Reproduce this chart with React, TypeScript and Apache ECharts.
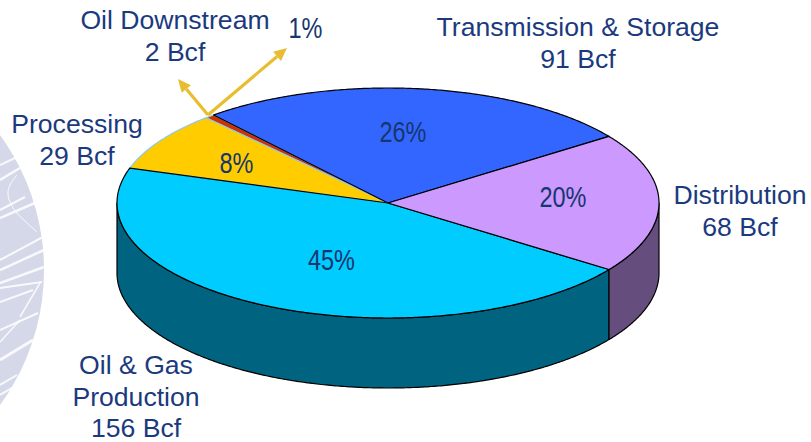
import React, { useEffect, useRef } from "react";
import * as echarts from "echarts";

const names = ["Transmission & Storage", "Oil Downstream", "Processing", "Oil & Gas Production", "Distribution"];
const bcf = [91, 2, 29, 156, 68];
const topColors = ["#3366FF", "#CC3300", "#FFCC00", "#00CCFF", "#CC99FF"];
const sideColors = ["#1F3D99", "#7A1F00", "#997A00", "#006480", "#654D7D"];
const edgeColors = ["#000000", "#8CC8F0", "#8CC8F0", "#000000", "#000000"];
const nameLabels = [
  "Transmission & Storage\n91 Bcf",
  "Oil Downstream\n2 Bcf",
  "Processing\n29 Bcf",
  "Oil & Gas\nProduction",
  "156 Bcf",
  "Distribution\n68 Bcf",
];
const pctLabels = ["26%", "1%", "8%", "45%", "20%"];

const CX = 388;
const CY = 203;
const RX = 271;
const RY = 115;
const DEPTH = 70;
const START = 35.4;
const total = bcf.reduce((a, b) => a + b, 0);

const pt = (deg: number, dy = 0): number[] => {
  const r = (deg * Math.PI) / 180;
  return [CX + RX * Math.cos(r), CY - RY * Math.sin(r) + dy];
};
const arc = (a: number, b: number, dy = 0): number[][] => {
  const out: number[][] = [];
  const n = Math.max(2, Math.ceil(Math.abs(b - a) * 2));
  for (let i = 0; i <= n; i++) out.push(pt(a + ((b - a) * i) / n, dy));
  return out;
};
const sliceStart = (idx: number) => {
  let s = 0;
  for (let i = 0; i < idx; i++) s += bcf[i];
  return START + (s / total) * 360;
};

const renderTop = (params: any, api: any) => {
  const i = params.dataIndex;
  const a0 = sliceStart(i);
  const a1 = a0 + (api.value(0) / total) * 360;
  const pts = [[CX, CY], ...arc(a0, a1), [CX, CY]];
  return {
    type: "polygon",
    z2: edgeColors[i] === "#000000" ? 10 : 5,
    shape: { points: pts },
    style: { fill: topColors[i], stroke: edgeColors[i], lineWidth: 1.2, lineJoin: "round" },
  };
};

const renderSide = (params: any, api: any) => {
  const i = params.dataIndex;
  const a0 = sliceStart(i);
  const a1 = a0 + (api.value(0) / total) * 360;
  // the visible wall is the part of the slice on the near half of the ellipse
  const lo = Math.max(a0, 180);
  const hi = Math.min(a1, 360);
  if (hi <= lo) return null;
  const pts = [...arc(lo, hi), ...arc(hi, lo, DEPTH)];
  return {
    type: "polygon",
    shape: { points: pts },
    style: { fill: sideColors[i], stroke: "#000000", lineWidth: 1.2, lineJoin: "round" },
  };
};

const nameStyle = (x: number, y: number, text: string, lineHeight = 32) => ({
  type: "text",
  x,
  y,
  z: 20,
  style: {
    text,
    fill: "#1B3A7E",
    font: '26.6px "Liberation Sans", Arial, sans-serif',
    lineHeight,
    align: "center",
    verticalAlign: "middle",
  },
});
const pctStyle = (x: number, y: number, text: string) => ({
  type: "text",
  x,
  y,
  scaleX: 0.81,
  z: 20,
  style: {
    text,
    fill: "#16366F",
    font: '29px "Liberation Sans", sans-serif',
    align: "center",
    verticalAlign: "middle",
  },
});
const arrowColor = "#E8BE30";
const arrow = (x1: number, y1: number, x2: number, y2: number) => {
  const t = Math.atan2(y2 - y1, x2 - x1);
  const l = 13;
  const w = 6;
  const bx = x2 - l * Math.cos(t);
  const by = y2 - l * Math.sin(t);
  return [
    { type: "line", z: 15, shape: { x1, y1, x2: bx, y2: by }, style: { stroke: arrowColor, lineWidth: 3.2 } },
    {
      type: "polygon",
      z: 15,
      shape: {
        points: [
          [x2, y2],
          [bx - w * Math.sin(t), by + w * Math.cos(t)],
          [bx + w * Math.sin(t), by - w * Math.cos(t)],
        ],
      },
      style: { fill: arrowColor },
    },
  ];
};

const streaks = [
  [0, 165, 15, 158, 2],
  [0, 180, 25, 165, 2.5],
  [0, 210, 25, 197, 2],
  [0, 218, 37, 202, 2.5],
  [0, 260, 43, 237, 2],
  [0, 270, 44, 250, 2.5],
  [0, 283, 44, 267, 2.5],
  [0, 288, 42, 282, 2],
  [0, 302, 33, 290, 2],
  [20, 317, 40, 283, 1.5],
  [0, 330, 38, 313, 2],
  [0, 342, 20, 320, 1.5],
  [0, 360, 33, 340, 3],
  [0, 385, 17, 375, 2],
  [0, 395, 22, 382, 2],
];
const globeCurve = [
  [17, 175],
  [10, 185],
  [8, 194],
  [11, 204],
  [17, 213],
  [27, 223],
  [37, 232],
];
const watermark = [
  { type: "circle", z: 0, shape: { cx: -185, cy: 270, r: 229 }, style: { fill: "#D5D8E8" } },
  ...streaks.map((s) => ({
    type: "line",
    z: 1,
    shape: { x1: s[0], y1: s[1], x2: s[2], y2: s[3] },
    style: { stroke: "#FFFFFF", lineWidth: s[4], opacity: 0.85 },
  })),
  {
    type: "polyline",
    z: 1,
    shape: { points: globeCurve, smooth: 0.4 },
    style: { stroke: "#FFFFFF", lineWidth: 1, fill: "none", opacity: 0.85 },
  },
];

export default function App() {
  const ref = useRef<HTMLDivElement>(null);
  useEffect(() => {
    document.body.style.margin = "0";
    const chart = echarts.init(ref.current!, null, { renderer: "svg" });
    chart.setOption({
      animation: false,
      backgroundColor: "#FFFFFF",
      graphic: [
        ...watermark,
        ...arrow(208, 115, 287, 48),
        ...arrow(208, 115, 178, 79),
        nameStyle(578, 43, nameLabels[0]),
        nameStyle(175, 36, nameLabels[1]),
        nameStyle(77, 140, nameLabels[2]),
        nameStyle(136, 381, nameLabels[3]),
        nameStyle(136, 428, nameLabels[4], 26),
        nameStyle(740, 211, nameLabels[5]),
        pctStyle(403, 132, pctLabels[0]),
        pctStyle(305.5, 28, pctLabels[1]),
        pctStyle(236.5, 163, pctLabels[2]),
        pctStyle(331.5, 260.5, pctLabels[3]),
        pctStyle(563, 197, pctLabels[4]),
      ],
      series: [
        {
          type: "custom",
          name: "side",
          coordinateSystem: "none",
          z: 5,
          silent: true,
          renderItem: renderSide,
          data: bcf.map((v, i) => ({ name: names[i], value: [v] })),
        },
        {
          type: "custom",
          name: "top",
          coordinateSystem: "none",
          z: 6,
          silent: true,
          renderItem: renderTop,
          data: bcf.map((v, i) => ({ name: names[i], value: [v] })),
        },
      ],
    });
    return () => chart.dispose();
  }, []);
  return <div ref={ref} style={{ width: 811, height: 442 }} />;
}
